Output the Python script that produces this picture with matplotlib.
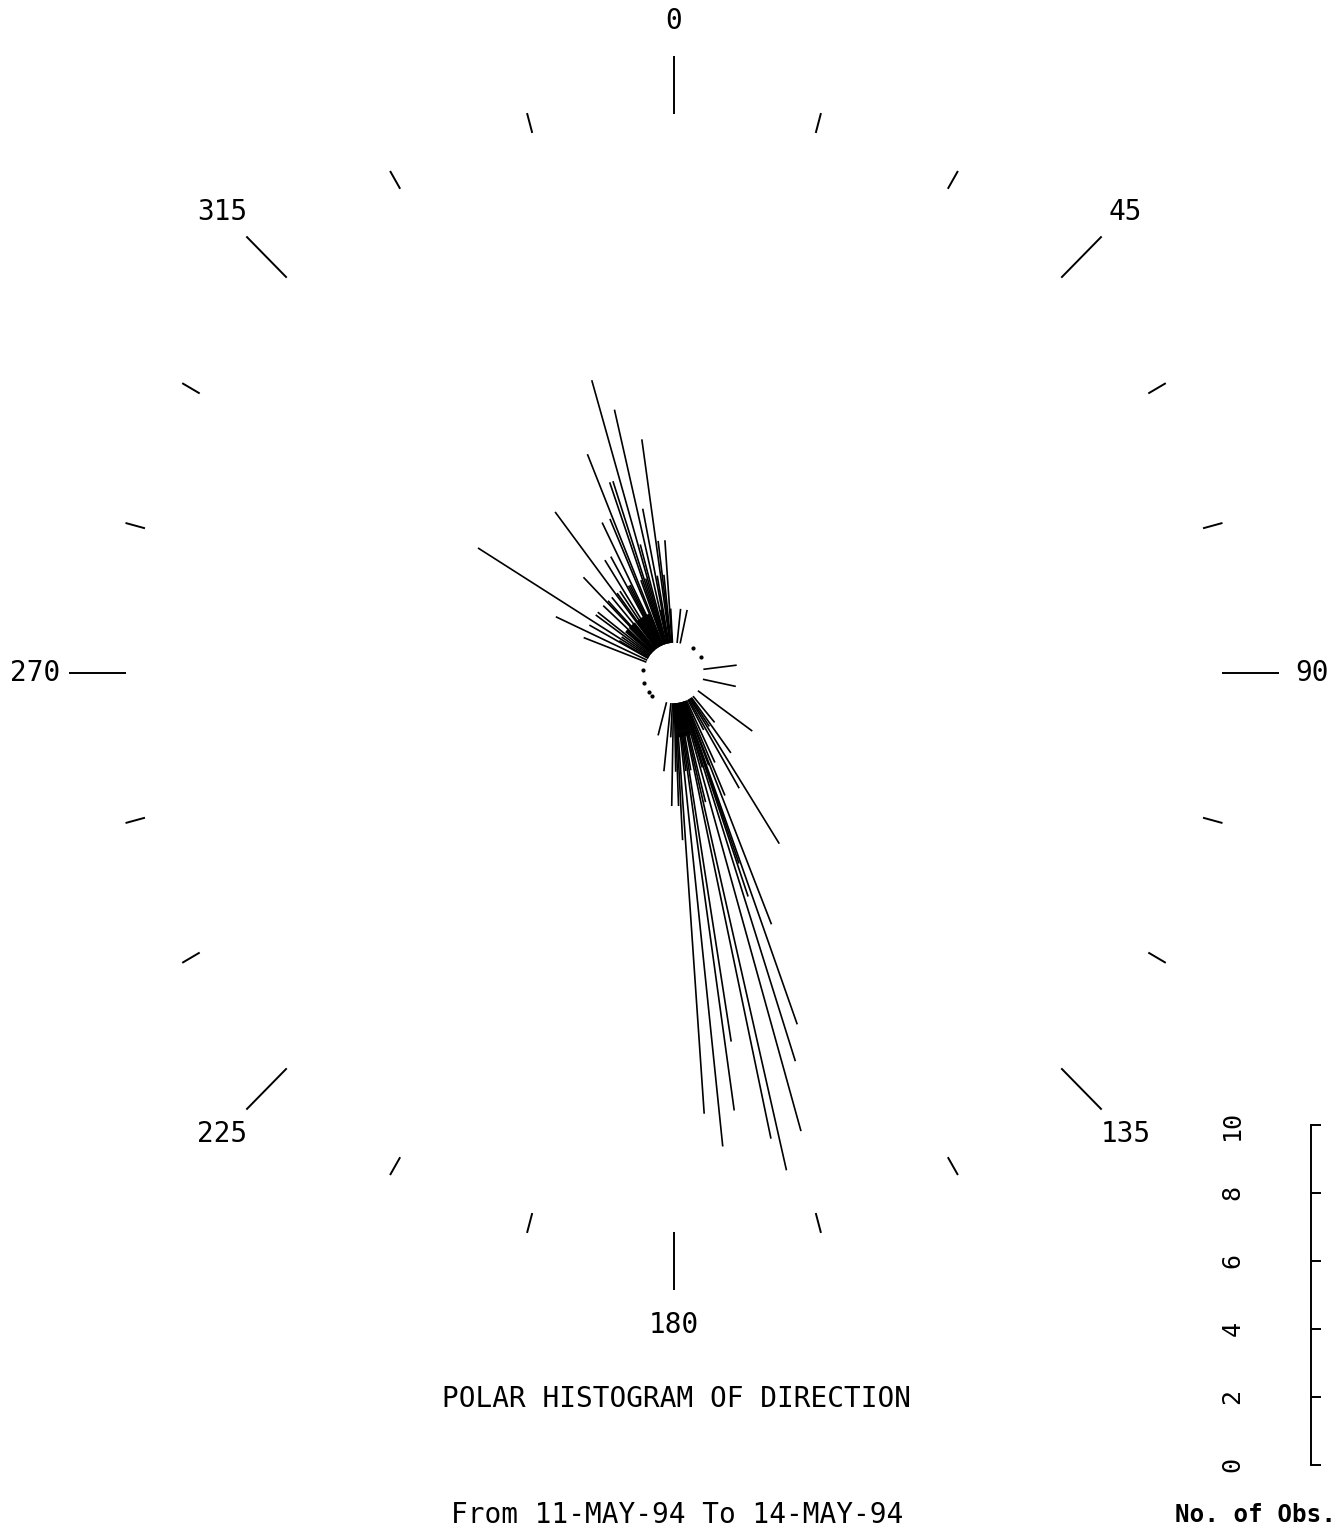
import numpy as np
import matplotlib
matplotlib.use("Agg")
import matplotlib.pyplot as plt

# polar histogram data: direction (deg, clockwise from north) and number of obs
up_dir = [344, 347, 352, 338, 342, 341, 323, 302, 356, 328, 331, 316, 313, 295, 299,
          291, 6, 12, 337, 334, 349, 353, 326, 320, 306, 310, 318, 333, 340, 345,
          350, 354, 357, 335, 325, 300, 308, 315, 329, 343, 348, 321, 311, 304,
          319, 324, 327, 330, 332, 336, 312, 317]
up_obs = [8, 7, 6, 6, 5, 5, 5, 6, 3, 3, 3, 3, 2, 3, 2,
          2, 1, 1, 4, 4, 4, 3, 2, 2, 2, 1, 1, 2, 2, 3,
          2, 2, 1, 1, 1, 1, 2, 1, 1, 2, 1, 1, 1, 1,
          1, 2, 1, 1, 2, 1, 1, 2]
low_dir = [167, 160.3, 162.3, 171, 176, 172, 174, 168, 164.2, 147.8, 158.4, 126, 194.6,
           186, 181, 178, 144, 150, 161.3, 160.8, 170, 166, 163, 175, 179, 183, 173,
           165, 169, 155, 152, 157, 146, 140, 177, 159, 83, 102]
low_obs = [14, 10, 11, 10, 12, 12, 13, 13, 13, 5, 7, 2, 1,
           2, 3, 3, 2, 3, 6, 5, 2, 3, 2, 1, 2, 1, 2,
           1, 1, 2, 1, 3, 1, 1, 4, 2, 1, 1]
dot_dir = [37, 59, 275, 252, 234, 225]

dirs = np.array(up_dir + low_dir, dtype=float)
obs = np.array(up_obs + low_obs, dtype=float)

compass_labels = ["0", "45", "90", "135", "180", "225", "270", "315"]
scale_ticks = [0, 2, 4, 6, 8, 10]

W, H = 1344, 1529
SX, SY = 33.6, 34.3   # pixels per observation, plotter is a bit taller than wide
R0 = 0.88             # empty hole in the middle
RMAX = 19.6
cx, cy = 674, 673

fig = plt.figure(figsize=(W / 100, H / 100), dpi=100)
ax = fig.add_axes([(cx - RMAX * SX) / W, (H - cy - RMAX * SY) / H,
                   2 * RMAX * SX / W, 2 * RMAX * SY / H], projection="polar")
ax.set_aspect("auto")
ax.set_theta_zero_location("N")
ax.set_theta_direction(-1)
ax.set_ylim(0, RMAX)
ax.axis("off")

mono = "DejaVu Sans Mono"

# histogram spokes
th = np.radians(dirs)
ax.vlines(th, R0, R0 + obs, colors="black", lw=1.2, clip_on=False)
ax.plot(np.radians(dot_dir), np.full(len(dot_dir), R0 + 0.05), "k.", ms=4,
        clip_on=False)

# compass ticks, every 15 deg, long ones every 45 deg
minor = np.radians([a for a in range(0, 360, 15) if a % 45])
major = np.radians(np.arange(0, 360, 45))
ax.vlines(minor, 16.3, 16.9, colors="black", lw=1.4, clip_on=False)
ax.vlines(major, 16.3, 18.0, colors="black", lw=1.4, clip_on=False)
for a, lab in zip(np.arange(0, 360, 45), compass_labels):
    ax.text(np.radians(a), 19.0, lab, ha="center", va="center", fontsize=20,
            family=mono, clip_on=False)

fig.text(677 / W, 1 - 1399 / H, "POLAR HISTOGRAM OF DIRECTION", ha="center",
         va="center", fontsize=20, family=mono)
fig.text(677 / W, 1 - 1515 / H, "From 11-MAY-94 To 14-MAY-94", ha="center",
         va="center", fontsize=20, family=mono)
fig.text(1255 / W, 1 - 1515 / H, "No. of Obs.", ha="center", va="center",
         fontsize=17.5, family=mono, fontweight="bold")

# scale bar
bx = fig.add_axes([1311 / W, (H - 1465) / H, 0.02, 340 / H])
bx.set_ylim(0, 10)
bx.set_xticks([])
bx.set_yticks(scale_ticks)
for s in ["top", "right", "bottom"]:
    bx.spines[s].set_visible(False)
bx.spines["left"].set_linewidth(1.4)
bx.patch.set_visible(False)
bx.tick_params(axis="y", direction="in", length=7, width=1.4, pad=48,
               labelrotation=90, labelsize=18)
for t in bx.get_yticklabels():
    t.set_family(mono)
    t.set_va("center")

fig.savefig("out.png", dpi=100)
